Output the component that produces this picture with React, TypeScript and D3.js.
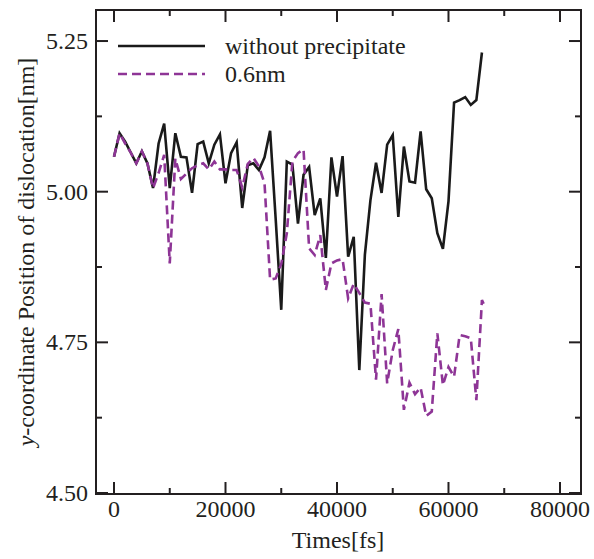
import React from "react";
import * as d3 from "d3";

const timesFs = [
  0, 1000, 2000, 3000, 4000, 5000, 6000, 7000, 8000, 9000,
  10000, 11000, 12000, 13000, 14000, 15000, 16000, 17000, 18000, 19000,
  20000, 21000, 22000, 23000, 24000, 25000, 26000, 27000, 28000, 29000,
  30000, 31000, 32000, 33000, 34000, 35000, 36000, 37000, 38000, 39000,
  40000, 41000, 42000, 43000, 44000, 45000, 46000, 47000, 48000, 49000,
  50000, 51000, 52000, 53000, 54000, 55000, 56000, 57000, 58000, 59000,
  60000, 61000, 62000, 63000, 64000, 65000, 66000,
];

const withoutPrecipitate = [
  5.058, 5.097, 5.083, 5.065, 5.047, 5.067, 5.047, 5.006, 5.08, 5.113,
  5.006, 5.097, 5.058, 5.057, 4.998, 5.079, 5.083, 5.047, 5.078, 5.095,
  5.014, 5.064, 5.082, 4.973, 5.044, 5.047, 5.036, 5.057, 5.101, 4.955,
  4.804, 5.05, 5.045, 4.947, 5.028, 5.041, 4.961, 4.989, 4.89, 5.057,
  4.992, 5.059, 4.892, 4.925, 4.704, 4.895, 4.986, 5.048, 4.998, 5.078,
  5.094, 4.958, 5.075, 5.017, 5.015, 5.1, 5.004, 4.989, 4.931, 4.905,
  4.984, 5.148, 5.152, 5.157, 5.144, 5.152, 5.231,
];

const timesFs06 = [
  0, 1000, 2000, 3000, 4000, 5000, 6000, 7000, 8000, 9000,
  10000, 11000, 12000, 13000, 14000, 15000, 16000, 17000, 18000, 19000,
  20000, 21000, 22000, 23000, 24000, 25000, 26000, 27000, 28000, 29000,
  30000, 31000, 32000, 33000, 34000, 35000, 36000, 37000, 38000, 39000,
  40000, 41000, 42000, 43000, 44000, 45000, 46000, 47000, 48000, 49000,
  50000, 51000, 52000, 53000, 54000, 55000, 56000, 57000, 58000, 59000,
  60000, 61000, 62000, 63000, 64000, 65000, 66000, 66600,
];

const precipitate06 = [
  5.058, 5.097, 5.08, 5.065, 5.047, 5.067, 5.047, 5.006, 5.031, 5.061,
  4.881, 5.055, 5.021, 5.03, 5.039, 5.044, 5.047, 5.037, 5.05, 5.037,
  5.037, 5.036, 5.036, 5.007, 5.046, 5.056, 5.042, 5.014, 4.854, 4.856,
  4.88, 4.931, 5.05, 5.064, 5.07, 4.906, 4.895, 4.928, 4.837, 4.881,
  4.886, 4.888, 4.823, 4.847, 4.832, 4.816, 4.814, 4.688, 4.83, 4.682,
  4.737, 4.772, 4.638, 4.683, 4.664, 4.675, 4.628, 4.635, 4.765, 4.679,
  4.709, 4.693, 4.762, 4.76, 4.757, 4.654, 4.82, 4.808,
];

const xMajorTicks = [0, 20000, 40000, 60000, 80000];
const xMinorTicks = [10000, 30000, 50000, 70000];
const yMajorTicks = [4.5, 4.75, 5.0, 5.25];
const yMinorTicks = [4.625, 4.875, 5.125];

const seriesNames = ["without precipitate", "0.6nm"];

export default function App() {
  const W = 594, H = 559;
  const left = 96, right = 581, top = 10, bottom = 494;
  const x = d3.scaleLinear().domain([-3230, 83770]).range([left, right]);
  const y = d3.scaleLinear().domain([4.5, 5.3015]).range([493, top]);

  const lineB = d3.line<number>()
    .x((_, i) => x(timesFs[i]))
    .y((d) => y(d));
  const lineP = d3.line<number>()
    .x((_, i) => x(timesFs06[i]))
    .y((d) => y(d));

  const font = "'Liberation Serif', 'Times New Roman', serif";
  const axisColor = "#231f20";
  const purple = "#8e3596";
  const black = "#1a1a1a";
  const major = 12, minor = 6;

  return (
    <svg width={W} height={H} style={{ position: "absolute", left: 0, top: 0 }}
      fontFamily={font}>
      <rect x={0} y={0} width={W} height={H} fill="#fff" />
      <path d={lineB(withoutPrecipitate) || ""} fill="none" stroke={black}
        strokeWidth={2.6} strokeLinejoin="miter" />
      <path d={lineP(precipitate06) || ""} fill="none" stroke={purple}
        strokeWidth={2.6} strokeDasharray="9,5" />
      {/* frame */}
      <rect x={left} y={top} width={right - left} height={bottom - top}
        fill="none" stroke={axisColor} strokeWidth={2} />
      {/* x ticks */}
      {xMajorTicks.map((t) => (
        <g key={"xm" + t}>
          <line x1={x(t)} x2={x(t)} y1={bottom} y2={bottom - major} stroke={axisColor} strokeWidth={2} />
          <line x1={x(t)} x2={x(t)} y1={top} y2={top + major} stroke={axisColor} strokeWidth={2} />
          <text x={x(t)} y={517} textAnchor="middle" fontSize={24} fill="#231f20">{t}</text>
        </g>
      ))}
      {xMinorTicks.map((t) => (
        <g key={"xn" + t}>
          <line x1={x(t)} x2={x(t)} y1={bottom} y2={bottom - minor} stroke={axisColor} strokeWidth={2} />
          <line x1={x(t)} x2={x(t)} y1={top} y2={top + minor} stroke={axisColor} strokeWidth={2} />
        </g>
      ))}
      {/* y ticks */}
      {yMajorTicks.map((v) => (
        <g key={"ym" + v}>
          <line x1={left} x2={left + major} y1={y(v)} y2={y(v)} stroke={axisColor} strokeWidth={2} />
          <line x1={right} x2={right - major} y1={y(v)} y2={y(v)} stroke={axisColor} strokeWidth={2} />
          <text x={88} y={y(v) + 8} textAnchor="end" fontSize={24} fill="#231f20">{d3.format(".2f")(v)}</text>
        </g>
      ))}
      {yMinorTicks.map((v) => (
        <g key={"yn" + v}>
          <line x1={left} x2={left + minor} y1={y(v)} y2={y(v)} stroke={axisColor} strokeWidth={2} />
          <line x1={right} x2={right - minor} y1={y(v)} y2={y(v)} stroke={axisColor} strokeWidth={2} />
        </g>
      ))}
      {/* axis labels */}
      <text x={338} y={548} textAnchor="middle" fontSize={24} fill="#231f20">Times[fs]</text>
      <text transform={`translate(34, 252) rotate(-90)`} textAnchor="middle" fontSize={24} fill="#231f20">
        <tspan fontStyle="italic">y</tspan>-coordinate Position of dislocation[nm]
      </text>
      {/* legend */}
      <line x1={118} x2={205} y1={46} y2={46} stroke={black} strokeWidth={2.6} />
      <text x={225} y={54} fontSize={24} fill="#231f20">{seriesNames[0]}</text>
      <line x1={118} x2={205} y1={74} y2={74} stroke={purple} strokeWidth={2.6} strokeDasharray="9,5" />
      <text x={225} y={82} fontSize={24} fill="#231f20">{seriesNames[1]}</text>
    </svg>
  );
}
